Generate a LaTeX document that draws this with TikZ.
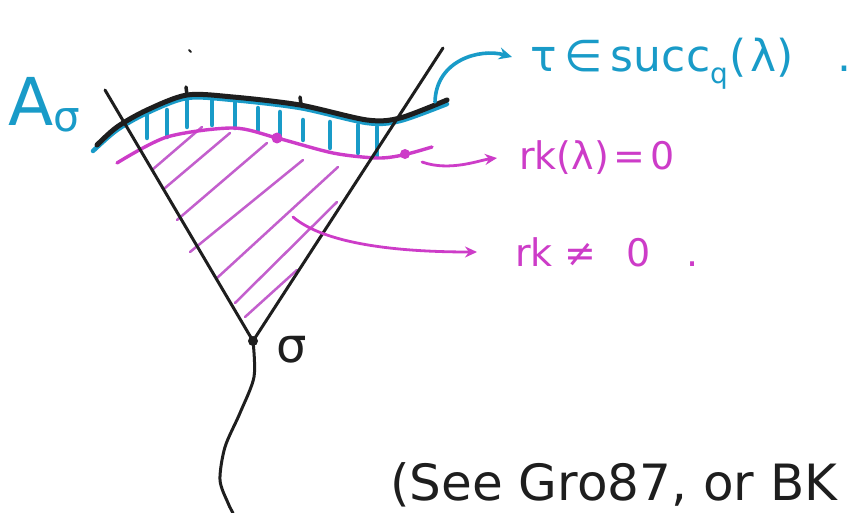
\documentclass[tikz,border=0pt]{standalone}
\usepackage{fontspec}
\setmainfont{DejaVu Sans}
\usetikzlibrary{arrows.meta}
\definecolor{penblue}{RGB}{25,155,200}
\definecolor{penmag}{RGB}{205,60,200}
\definecolor{penmaglight}{RGB}{195,95,205}
\definecolor{penblack}{RGB}{30,30,30}
\newcommand{\subsc}[3]{\raisebox{#2}{\fontsize{#1}{#1}\selectfont #3}}
\begin{document}
\begin{tikzpicture}[x=1pt,y=-1pt,
  inkblack/.style={draw=penblack,line width=3.5pt,line cap=round,line join=round},
  thinblack/.style={draw=penblack,line width=3pt,line cap=round},
  blueink/.style={draw=penblue,line width=4.5pt,line cap=round},
  magink/.style={draw=penmag,line width=3.4pt,line cap=round},
  maghatch/.style={draw=penmaglight,line width=2.5pt,line cap=round},
  magarrow/.style={draw=penmag,line width=2.8pt,line cap=round,-{Stealth[length=12pt,width=11pt]}},
  bluearrow/.style={draw=penblue,line width=3.6pt,line cap=round,-{Stealth[length=13pt,width=12pt]}},
  lbl/.style={inner sep=0pt,anchor=base west}]
\useasboundingbox (0,0) rectangle (853,513);
\fill[white] (0,0) rectangle (853,513);

% magenta hatching inside the cone
\draw[maghatch] (152,170) -- (202,127);
\draw[maghatch] (165,188) -- (230,133);
\draw[maghatch] (177,220) -- (267,143);
\draw[maghatch] (190,252) -- (303,160);
\draw[maghatch] (217,278) -- (338,167);
\draw[maghatch] (235,303) -- (337,202);
\draw[maghatch] (245,317) -- (297,270);

% blue hatching between the two curves
\draw[blueink] (147,113) -- (147,138);
\draw[blueink] (167,110) -- (167,137);
\draw[blueink] (187,100) -- (187,127);
\draw[blueink] (212,100) -- (212,125);
\draw[blueink] (235,102) -- (235,128);
\draw[blueink] (258,108) -- (258,130);
\draw[blueink] (280,112) -- (280,137);
\draw[blueink] (303,120) -- (303,140);
\draw[blueink] (330,122) -- (330,148);
\draw[blueink] (358,125) -- (358,153);
\draw[blueink] (377,127) -- (377,157);

% blue shadow under the black curve
\draw[blueink] plot[smooth] coordinates {(93,151) (117,130) (147,113) (187,98) (233,100) (300,108) (367,123) (400,121) (447,104)};

% magenta level curve
\draw[magink] plot[smooth] coordinates {(117,163) (167,137) (233,128) (277,138) (333,153) (377,158) (403,155) (432,147)};
\fill[penmag] (277,138) circle (5.5);
\fill[penmag] (405,154) circle (5);

% black curve (the antichain)
\draw[inkblack,line width=5pt] plot[smooth] coordinates {(97,145) (117,127) (147,110) (187,95) (233,97) (300,105) (367,120) (400,118) (447,100)};
\draw[inkblack] (186,87) -- (187,95);
\draw[inkblack] (300,97) -- (301,104);
\draw[thinblack,line width=2pt] (189,50) -- (191,52);

% the cone
\coordinate (sig) at (253,341);
\coordinate (ltop) at (105,90);
\coordinate (rtop) at (443,48);
\draw[thinblack] (ltop) -- (sig) -- (rtop);
\draw[thinblack] plot[smooth] coordinates {(253,341) (254,377) (240,413) (225,447) (220,480) (228,503) (233,513)};
\fill[penblack] (sig) circle (5);

% labels
\node[lbl,text=penblue,font=\fontsize{66}{66}\selectfont] (Asig) at (8,126) {A\subsc{42}{-6pt}{σ}};
\node[lbl,text=penblack,font=\fontsize{48}{48}\selectfont] (siglbl) at (276,362) {σ};
\node[lbl,text=penblue,font=\fontsize{44}{44}\selectfont] (tau) at (530,72) {τ\hspace{8pt}∈\hspace{8pt}succ\subsc{28}{-12pt}{q}\hspace{2pt}(\hspace{3pt}λ)\hspace{44pt}.};
\node[lbl,text=penmag,font=\fontsize{38}{38}\selectfont] (rk0) at (519,170) {rk(λ)\hspace{5pt}=\hspace{5pt}0};
\node[lbl,text=penmag,font=\fontsize{38}{38}\selectfont] (rkn) at (515,266) {rk\hspace{12pt}≠\hspace{30pt}0\hspace{36pt}.};
\node[lbl,text=penblack,font=\fontsize{50}{50}\selectfont] (see) at (390,500) {(See Gro87, or BK};

% arrows
\coordinate (blueStart) at (435,102);
\coordinate (magStart) at (422,162);
\coordinate (rknStart) at (293,217);
\draw[bluearrow] (blueStart) .. controls (436,60) and (480,48) .. ([xshift=-18pt,yshift=15pt]tau.base west);
\draw[magarrow] (magStart) .. controls (450,172) and (480,160) .. ([xshift=-22pt,yshift=12pt]rk0.base west);
\draw[magarrow] (rknStart) .. controls (320,240) and (380,252) .. ([xshift=-38pt,yshift=14pt]rkn.base west);
\end{tikzpicture}
\end{document}
